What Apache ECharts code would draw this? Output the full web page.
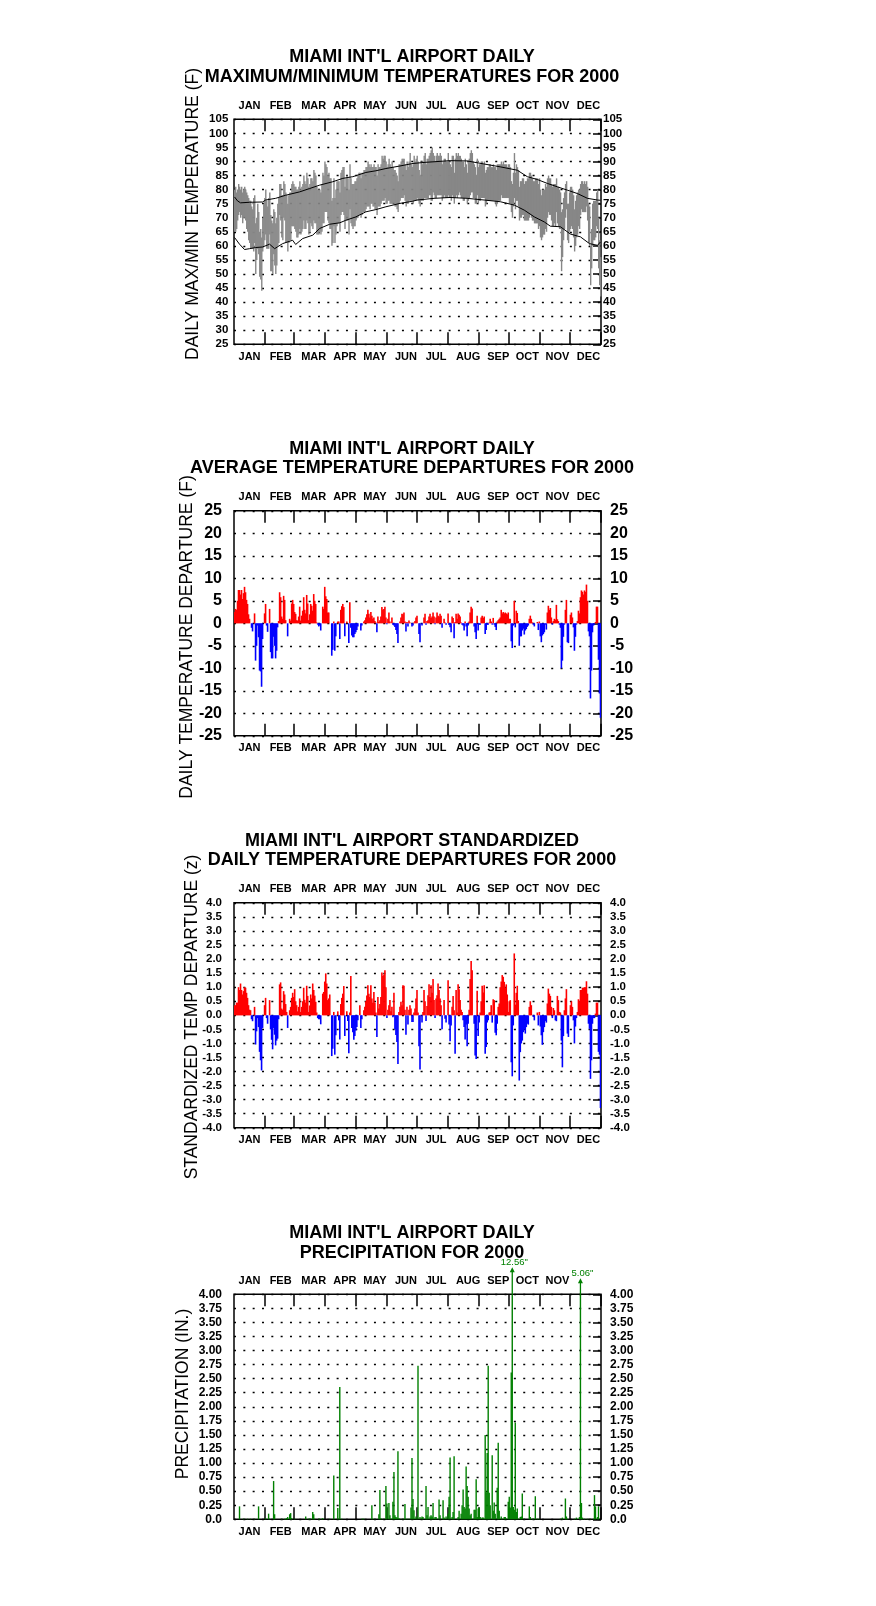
<!DOCTYPE html>
<html><head><meta charset="utf-8">
<script src="https://cdn.jsdelivr.net/npm/echarts@6/dist/echarts.min.js"></script>
<style>html,body{margin:0;padding:0;background:#fff}#c{width:876px;height:1606px}</style>
</head><body><div id="c"></div>
<script>
const FF = '"Liberation Sans", Arial, Helvetica, sans-serif';
const monthNames = ['JAN','FEB','MAR','APR','MAY','JUN','JUL','AUG','SEP','OCT','NOV','DEC'];
const monthStartDays = [31,60,91,121,152,182,213,244,274,305,335];
const monthLabelDays = [15,46,79,110,140,171,201,233,263,292,322,353];
const days = Array.from({length:366}, (_, i) => String(i));

const tempTicks = [25,30,35,40,45,50,55,60,65,70,75,80,85,90,95,100,105];
const depTicks = [-25,-20,-15,-10,-5,0,5,10,15,20,25];
const zTicks = [-4,-3.5,-3,-2.5,-2,-1.5,-1,-0.5,0,0.5,1,1.5,2,2.5,3,3.5,4];
const precipTicks = [0,0.25,0.5,0.75,1,1.25,1.5,1.75,2,2.25,2.5,2.75,3,3.25,3.5,3.75,4];

const tMax = [
80,81,79,80,82,81,80,81,79,80, 81,80,79,78,77,76,76,74,73,77, 78,68,70,75,72,65,66,63,70,75,
77,80,76,74,77,79,71,69,68,73, 72,68,70,75,77,82,82,78,78,83, 82,79,78,75,78,79,79,82,83,82,
81,81,80,80,81,83,80,81,82,85, 83,82,86,84,81,82,84,84,83,87, 86,85,81,80,80,80,79,82,86,85,
90,89,88,85,86,84,84,76,77,84, 77,80,83,83,83,79,86,87,88,88, 81,84,85,84,80,89,84,82,82,82,
83,83,84,85,86,86,84,86,86,87, 87,88,88,90,89,88,89,88,88,89, 88,88,85,89,88,88,89,92,91,92,
92,90,88,89,91,89,88,90,88,87, 87,86,85,83,89,89,90,91,91,91, 89,87,90,88,90,93,89,88,89,92,
90,91,92,90,87,85,90,89,90,92, 93,89,91,91,92,93,94,95,93,92, 90,92,93,92,92,93,92,89,90,91,
91,90,90,93,90,89,88,92,92,86, 91,93,92,93,92,92,91,90,90,88, 91,89,86,90,91,93,94,93,90,89,
88,85,91,88,89,89,90,90,89,90, 86,87,88,88,89,89,88,88,89,88, 88,87,89,89,89,89,90,89,90,89,
89,89,88,89,89,88,83,82,86,93, 86,89,88,87,81,83,83,84,84,82, 83,83,84,84,86,86,85,84,83,83,
84,84,84,82,84,80,78,80,80,80, 82,81,84,85,84,84,82,81,82,82, 82,84,81,81,80,79,72,73,77,79,
82,83,75,75,79,81,81,80,78,73, 76,78,79,80,80,82,83,83,82,83, 82,83,81,75,74,60,66,75,76,76,
76,79,80,70,62,56];
const tMin = [
65,65,66,69,71,72,70,71,68,70, 70,69,66,65,62,61,59,59,59,58, 61,50,55,59,57,49,48,44,58,60,
62,64,59,59,59,64,51,51,50,57, 53,50,53,60,61,71,69,63,62,70, 69,61,61,58,61,62,62,67,67,67,
66,65,63,63,64,66,64,65,66,69, 66,66,69,68,64,65,68,67,66,69, 68,68,64,64,64,65,64,65,68,68,
72,72,72,69,68,66,66,60,61,67, 61,64,67,68,68,65,71,72,72,71, 66,69,69,69,64,73,68,67,66,67,
67,69,70,70,71,71,70,71,72,72, 72,73,74,74,74,73,75,75,74,74, 73,73,71,74,74,74,75,76,76,76,
77,75,75,76,76,75,75,75,75,75, 74,74,73,72,75,76,77,77,77,78, 76,74,75,75,76,76,76,76,75,76,
76,76,77,76,75,74,76,76,76,77, 77,77,77,77,78,78,76,76,79,78, 77,77,78,78,78,78,78,76,77,78,
77,77,77,78,77,77,76,78,77,75, 77,78,77,78,79,78,77,77,76,76, 77,77,75,76,77,78,79,79,77,77,
75,75,78,75,76,76,77,77,77,77, 74,75,76,76,76,76,76,76,76,76, 75,74,75,76,76,76,78,77,77,77,
77,77,77,77,75,75,72,70,74,77, 73,76,76,74,69,70,70,71,71,69, 69,69,69,69,70,71,70,69,69,68,
68,68,68,66,67,63,62,63,64,64, 66,65,70,72,71,71,69,67,67,68, 67,72,68,67,66,66,51,56,62,66,
70,73,62,61,65,66,67,66,63,58, 60,63,64,67,66,71,73,72,72,72, 72,74,69,61,60,46,52,60,62,62,
63,67,66,52,46,42];

const normMaxPts = [[0,77.4],[3,76],[6,75.3],[15,75.5],[28,75.6],[31,76.3],[41,76.9],[51,78],[65,79.2],[75,80.4],[85,81.6],[98,82.8],[108,84],[118,84.6],[131,86.1],[141,86.7],[151,87.5],[165,88.4],[178,89.3],[190,89.7],[199,89.9],[215,90.3],[232,90.2],[249,89.1],[265,88.1],[282,86.9],[292,84.6],[302,83.6],[312,82.2],[322,81],[332,79.8],[342,78.6],[352,76.9],[362,76.3],[365,76.2]];
const normMinPts = [[0,63],[5,60.6],[10,58.7],[15,59],[21,59.4],[28,59.6],[35,60.6],[40,59],[48,60.8],[58,62],[61,60.5],[68,62.6],[78,63.8],[85,66.2],[95,67.7],[105,68.2],[111,69.1],[121,70.3],[131,72.1],[141,72.9],[151,73.9],[165,75.1],[178,75.9],[182,76.3],[199,76.9],[215,77.2],[232,76.9],[249,76.3],[265,75.7],[279,74.5],[289,72.7],[299,70.3],[309,68.5],[315,67],[325,66.8],[335,64.2],[345,63.2],[354,60.8],[362,60.2],[365,61.4]];

const depValues = [
2.5,3.2,3.0,5.0,7.4,7.4,6.4,7.4,5.4,6.7, 8.1,6.9,5.2,4.3,2.0,1.0,0,-1.0,-1.8,0,
2.2,-8.3,-5.0,-0.5,-3.1,-10.5,-10.7,-14.1,-3.5,0, 2.2,4.3,-0.5,-1.9,0,3.2,-6.4,-7.8,-7.8,-3.0,
-5.0,-7.8,-6.1,-0.9,0.5,6.9,5.8,1.5,1.0,6.1, 5.2,0.7,0,-2.9,0,1.0,0.6,4.4,5.2,4.3,
2.5,2.1,0.7,0.6,1.5,3.7,0.6,1.7,2.8,5.8, 3.0,2.2,6.3,4.4,0.7,2.0,4.3,3.9,2.8,6.5,
5.0,4.3,0.2,-0.3,-0.7,-0.5,-1.6,0,3.7,3.2, 8.1,6.0,5.4,2.4,2.4,0,0,-7.2,-5.9,0.4,
-6.1,-2.9,0,0.4,0.4,-3.5,3.0,3.8,4.3,3.6, -2.9,0,0.4,0,-4.4,4.7,-1.0,-2.7,-3.1,-3.1,
-2.4,-2.0,-1.5,-0.7,0,0,-1.6,-0.5,0,0.4, 0.7,1.3,2.0,3.0,2.1,1.3,2.5,1.7,1.0,1.3,
0.5,0.2,-2.0,1.5,0.3,0.7,1.5,3.6,3.0,3.2, 3.7,1.3,-0.2,1.0,2.4,0.4,0,1.3,-0.3,-0.5,
-0.8,-1.5,-2.4,-4.4,0,0.4,1.3,2.1,2.0,2.4, 0.4,-1.8,0.3,-0.7,0.6,0.2,0,-0.7,-0.5,0.2,
0.5,1.3,1.7,0,-2.4,-4.2,0,-0.5,0,1.3, 2.1,-0.3,0.5,0.7,1.5,2.1,1.2,1.5,2.4,1.5,
-0.2,1.3,2.4,1.7,1.5,2.1,1.7,-1.0,0,1.0, 0.2,-0.3,0,2.2,-0.4,-0.9,-2.0,1.5,1.2,-3.3,
0.3,2.1,1.0,2.2,1.9,1.5,0.2,-0.3,-0.5,-1.6, 0.4,-0.7,-2.9,-0.5,0.4,2.4,3.7,3.3,0,-0.7,
-2.0,-3.5,1.7,-1.6,-0.3,-0.3,1.3,1.7,1.2,1.5, -2.4,-1.5,-0.3,-0.3,0.2,1.0,0.4,-0.3,1.2,-0.3,
-0.8,-1.5,0.4,0.7,1.0,1.3,3.0,2.2,2.5,2.2, 2.4,2.2,2.0,2.4,1.0,1.0,-4.0,-5.5,-0.5,5.0,
-0.9,2.8,2.3,0.5,-5.0,-2.9,-2.9,-1.6,-1.2,-2.5, -1.6,-1.3,-0.8,-0.5,1.0,1.7,1.0,0.2,-0.3,-0.7,
0,0,0.3,-1.5,0.4,-2.9,-4.2,-2.7,-2.4,-2.0, -0.3,-1.4,2.4,3.9,3.0,3.4,1.3,-0.3,0.5,1.0,
0.8,4.1,0.9,0.5,-0.3,-1.0,-10.0,-8.3,-3.0,-0.3, 3.0,5.2,-4.2,-4.4,0,1.9,2.4,1.3,-0.9,-6.1,
-3.0,-0.3,0.5,2.8,2.2,5.8,7.3,7.0,6.4,7.3, 7.0,8.6,5.0,-1.8,-2.9,-16.7,-10.5,-2.0,-0.5,-0.3,
0.3,3.7,3.7,-8.1,-15.6,-21.0];

const zValues = [
0.36,0.36,0.45,0.45,1.0,0.9,1.13,0.9,0.74,0.86, 1.0,0.98,0.8,0.62,0.36,0.2,0.18,-0.14,-0.21,0,
0.3,-1.04,-0.57,-0.1,-0.42,-1.3,-1.6,-1.96,-0.45,0, 0.36,0.62,-0.1,-0.3,0,0.54,-0.5,-0.87,-1.21,-0.45,
-0.69,-1.07,-0.9,-0.83,-0.14,1.1,1.17,0.24,0.2,0.86, 0.74,0.4,0.12,-0.45,0,0.18,0.3,0.62,0.8,0.65,
0.93,0.5,0.36,0.14,0.3,0.6,0.12,0.3,0.5,0.98, 0.55,0.45,1.05,0.69,0.12,0.35,0.74,0.6,1.13,0.9,
0.7,0.48,0.1,-0.1,-0.14,-0.14,-0.32,0,0.77,0.83, 1.2,1.49,1.13,0.54,0.6,0.74,0,-1.45,-1.19,0.12,
-1.4,-0.71,0,0.14,-0.18,-0.86,0.4,0.62,0.77,1.04, -0.74,0,0.14,-0.2,-1.35,0.1,1.4,-0.45,-0.6,-0.87,
-0.74,-0.54,-0.42,-0.18,0,0.36,-0.45,-0.14,0,0.18, 0.3,0.5,0.7,1.07,0.77,0.65,1.07,0.6,0.45,0.83,
0.45,0.1,-0.77,0.65,0.24,0.4,0.65,1.52,1.4,1.45, 1.6,1.0,-0.1,0.2,0.36,0.54,0.14,0.3,-0.07,0.8,
-0.5,-0.7,-0.95,-1.73,0.12,0.3,0.48,0.36,1.07,1.05, 0.2,-0.69,0.3,-0.33,0.2,0.36,0.24,-0.24,-0.24,0.1,
0.24,0.6,0.9,0.1,-1.1,-1.93,0,-0.26,0.12,0.9, 0.5,-0.2,0.33,0.71,1.1,0.65,1.07,0.8,1.29,0.54,
-0.1,0.6,0.71,1.13,0.9,0.6,0.36,-0.5,0,0.54, -0.12,-0.26,0,1.25,-0.33,-0.92,-0.36,0.3,0.69,0.18,
-1.37,0.9,0.1,1.1,0.93,0.54,0.2,0.12,-0.18,-0.42, -0.86,-0.33,-1.1,-0.3,0.2,1.29,1.93,1.6,0,-0.3,
-1.43,-1.55,0.87,-0.74,-0.26,0.1,0.5,1.05,0.81,1.07, -1.37,-1.13,-0.26,-0.18,0.1,0.12,0.36,-0.26,0.57,0.54,
-0.62,-0.71,-0.3,0.3,0.42,1.0,1.2,1.43,1.37,1.19, 0.98,1.1,0.74,0.12,0.5,0.54,-1.67,-2.17,-0.36,2.2,
0.38,0.8,1.05,0.54,-2.32,-1.31,-1.0,-0.9,-0.6,-0.5, -0.65,-0.42,-0.3,-0.33,0.3,0.5,0.36,0,-0.06,-0.18,
0,0,0.1,-0.36,0.12,-0.4,-0.71,-1.05,-0.6,-0.42, -0.2,-0.26,0.42,0.95,0.77,0.69,0.3,-0.1,0.26,0.18,
-0.18,-0.21,0.69,0.54,0.12,0.1,-0.9,-1.85,-0.74,0.18, 0.6,0.93,-0.65,-0.77,0,0.36,0.5,0.3,-0.18,-1.0,
-0.4,-0.1,0.12,0.57,0.5,0.9,0.9,0.98,0.98,1.0, 1.0,1.21,0.77,-0.3,-0.48,-2.26,-1.6,-0.3,-0.1,-0.1,
0.06,0.45,0.45,-1.3,-1.4,-3.3];

const precipDays = [5,9,13,16,20,24,31,34,35,39,40,47,50,51,52,53,55,56,57,60,71,74,75,76,78,79,80,84,85,87,88,95,99,103,104,105,107,127,128,129,137,138,140,144,145,146,148,151,152,154,155,156,157,158,159,160,161,162,163,164,165,167,169,170,171,173,175,176,177,178,179,181,182,183,185,187,188,191,192,193,195,196,197,198,200,201,203,204,205,208,209,211,213,214,215,217,218,219,222,223,224,226,227,228,229,230,231,232,233,234,235,236,238,239,240,241,242,243,244,245,247,248,249,250,251,252,253,254,255,257,258,259,260,262,263,264,266,267,269,270,271,273,274,275,276,277,278,279,280,281,282,283,285,286,287,289,294,295,297,298,300,302,304,325,327,330,331,332,339,341,344,345,346,347,349,352,355,358,359,360,362,363];
const precipValues = [0.23,0.01,0.01,0.01,0.01,0.23,0.02,0.10,0.01,0.68,0.09,0.01,0.01,0.01,0.02,0.04,0.09,0.11,0.02,0.01,0.05,0.01,0.01,0.01,0.13,0.09,0.01,0.01,0.01,0.01,0.02,0.01,0.78,0.20,0.01,2.35,0.01,0.01,0.01,0.01,0.25,0.01,0.01,0.09,0.52,0.02,0.01,0.59,0.28,0.29,0.07,0.01,0.01,0.31,0.84,0.07,0.04,0.03,1.21,0.02,0.01,0.01,0.01,0.27,0.01,0.01,0.01,0.21,1.09,0.36,0.16,0.05,0.01,2.73,0.04,0.05,0.04,0.59,0.07,0.22,0.05,0.07,0.05,0.29,0.04,0.04,0.01,0.35,0.07,0.34,0.03,0.05,0.10,0.40,1.10,0.04,0.13,1.12,0.01,0.04,0.15,0.10,0.25,0.53,0.22,0.19,0.94,0.59,0.40,0.19,0.07,0.10,0.01,0.17,0.17,0.71,0.04,0.19,0.21,0.04,0.03,0.03,0.01,1.50,0.48,1.18,2.73,0.47,0.25,1.14,0.15,0.30,0.10,0.56,1.36,0.15,0.05,0.01,0.04,0.04,0.01,0.31,0.40,0.21,2.61,12.56,0.22,0.17,1.72,0.13,0.19,0.01,0.04,0.05,0.46,0.01,0.23,0.04,0.01,0.01,0.41,0.01,0.01,0.01,0.03,0.37,0.05,0.01,0.01,0.03,0.04,5.06,0.29,0.03,0.01,0.01,0.01,0.01,0.43,0.23,0.04,0.23];

const titleLines = [
  ["MIAMI INT'L AIRPORT DAILY", "MAXIMUM/MINIMUM TEMPERATURES FOR 2000"],
  ["MIAMI INT'L AIRPORT DAILY", "AVERAGE TEMPERATURE DEPARTURES FOR 2000"],
  ["MIAMI INT'L AIRPORT STANDARDIZED", "DAILY TEMPERATURE DEPARTURES FOR 2000"],
  ["MIAMI INT'L AIRPORT DAILY", "PRECIPITATION FOR 2000"]
];
const axisNames = ['DAILY MAX/MIN TEMPERATURE (F)', 'DAILY TEMPERATURE DEPARTURE (F)', 'STANDARDIZED TEMP DEPARTURE (z)', 'PRECIPITATION (IN.)'];

// ---------- layout / styling ----------
const gridTops = [119.3, 510.8, 902.8, 1294.3];
const titleY = [[57.5, 77], [448.7, 468.5], [841, 860.5], [1233, 1253]];
const nameXY = [[193, 214], [187.5, 637], [192, 1017], [183.5, 1394]];

const tickSet = new Set(monthStartDays);
const labelMap = {};
monthLabelDays.forEach((d, k) => { labelMap[d] = monthNames[k]; });

function makeX(gi, pos, hide) {
  hide = hide || [];
  return {
    type: 'category', gridIndex: gi, position: pos, data: days, boundaryGap: true,
    axisLine: {show: false, onZero: false},
    axisTick: {show: true, inside: true, length: 12, interval: (i) => tickSet.has(i),
      lineStyle: {color: '#000', width: 1.5}},
    axisLabel: {show: true, interval: (i) => labelMap[i] !== undefined && hide.indexOf(labelMap[i]) < 0,
      formatter: (v) => labelMap[Number(v)] || '',
      margin: pos === 'top' ? 8 : 7, color: '#000', fontSize: 11, fontWeight: 'bold', fontFamily: FF},
    splitLine: {show: false}
  };
}
function makeY(gi, ticks, fmt, fs, lm, rm) {
  const min = ticks[0], max = ticks[ticks.length - 1], interval = ticks[1] - ticks[0];
  const lab = {formatter: fmt, fontSize: fs, fontWeight: 'bold', color: '#000', fontFamily: FF};
  return [
    {type: 'value', gridIndex: gi, position: 'left', min, max, interval,
      axisLine: {show: false, onZero: false}, axisTick: {show: false},
      axisLabel: Object.assign({margin: lm}, lab),
      splitLine: {show: true, lineStyle: {color: '#000', width: 1.3, type: [2, 7.33]}}},
    {type: 'value', gridIndex: gi, position: 'right', min, max, interval,
      axisLine: {show: false, onZero: false},
      axisTick: {show: true, inside: true, length: 8, lineStyle: {color: '#000', width: 1.5}},
      axisLabel: Object.assign({margin: rm}, lab),
      splitLine: {show: false}}
  ];
}

const precip = new Array(366).fill(0);
precipDays.forEach((d, k) => { precip[d] = precipValues[k]; });
const precipMax = precipTicks[precipTicks.length - 1];
const overRange = [];
precipDays.forEach((d, k) => { if (precipValues[k] > precipMax) overRange.push([d, precipValues[k]]); });

const graphics = [];
titleLines.forEach((lines, p) => {
  lines.forEach((t, j) => graphics.push({type: 'text', x: 412, y: titleY[p][j],
    style: {text: t, fill: '#000', font: 'bold 18px ' + FF, align: 'center', verticalAlign: 'middle'}}));
});
axisNames.forEach((t, p) => graphics.push({type: 'text', x: nameXY[p][0], y: nameXY[p][1], rotation: Math.PI / 2,
  style: {text: t, fill: '#000', font: '17.5px ' + FF, align: 'center', verticalAlign: 'middle'}}));

const signColor = (p) => (p.value >= 0 ? '#ff0000' : '#0000ff');

const option = {
  animation: false,
  backgroundColor: '#fff',
  graphic: graphics,
  grid: gridTops.map(t => ({left: 234, width: 367, top: t, height: 225, show: true,
    borderColor: '#000', borderWidth: 1.5, backgroundColor: 'transparent'})),
  xAxis: [
    makeX(0, 'bottom'), makeX(0, 'top'),
    makeX(1, 'bottom'), makeX(1, 'top'),
    makeX(2, 'bottom'), makeX(2, 'top'),
    makeX(3, 'bottom'), makeX(3, 'top', ['DEC'])
  ],
  yAxis: [].concat(
    makeY(0, tempTicks, (v) => String(v), 11.5, 5.7, 2),
    makeY(1, depTicks, (v) => String(v), 16, 12, 9),
    makeY(2, zTicks, (v) => v.toFixed(1), 11.5, 12, 9),
    makeY(3, precipTicks, (v) => (v === 0 ? '0.0' : v.toFixed(2)), 12, 12, 9)
  ),
  series: [
    {type: 'custom', xAxisIndex: 0, yAxisIndex: 0,
      data: days.map((d, i) => [i, tMin[i], tMax[i]]),
      encode: {x: 0, y: [1, 2]},
      renderItem: function (params, api) {
        const lo = api.coord([api.value(0), api.value(1)]);
        const hi = api.coord([api.value(0), api.value(2)]);
        const w = api.size([1, 0])[0];
        return {type: 'rect', shape: {x: lo[0] - w / 2, y: hi[1], width: w + 0.4, height: lo[1] - hi[1]},
          style: {fill: '#878787'}};
      }},
    {type: 'line', xAxisIndex: 0, yAxisIndex: 0, data: normMaxPts, symbol: 'none',
      lineStyle: {color: '#000', width: 1}},
    {type: 'line', xAxisIndex: 0, yAxisIndex: 0, data: normMinPts, symbol: 'none',
      lineStyle: {color: '#000', width: 1}},
    {type: 'bar', xAxisIndex: 2, yAxisIndex: 2, data: depValues, barWidth: 1.6,
      itemStyle: {color: signColor}},
    {type: 'bar', xAxisIndex: 4, yAxisIndex: 4, data: zValues, barWidth: 1.6,
      itemStyle: {color: signColor}},
    {type: 'bar', xAxisIndex: 6, yAxisIndex: 6, data: precip, barWidth: 1.4,
      itemStyle: {color: '#008000'}},
    {type: 'custom', xAxisIndex: 6, yAxisIndex: 6, clip: false, data: overRange,
      renderItem: function (params, api) {
        const v = api.value(1);
        const top = api.coord([api.value(0), precipMax]);
        const x = top[0];
        const len = v >= 10 ? 26 : 15;
        const tipY = top[1] - len;
        return {type: 'group', children: [
          {type: 'line', shape: {x1: x, y1: top[1], x2: x, y2: tipY + 2}, style: {stroke: '#008000', lineWidth: 1.3}},
          {type: 'polygon', shape: {points: [[x, tipY - 1], [x - 2.5, tipY + 4], [x + 2.5, tipY + 4]]}, style: {fill: '#008000'}},
          {type: 'text', x: x + 2, y: tipY - 5.5, style: {text: v.toFixed(2) + '"', fill: '#008000',
            font: '9.5px ' + FF, align: 'center', verticalAlign: 'middle'}}
        ]};
      }}
  ]
};
const chart = echarts.init(document.getElementById('c'), null, {renderer: 'canvas'});
chart.setOption(option);
</script>
</body></html>
